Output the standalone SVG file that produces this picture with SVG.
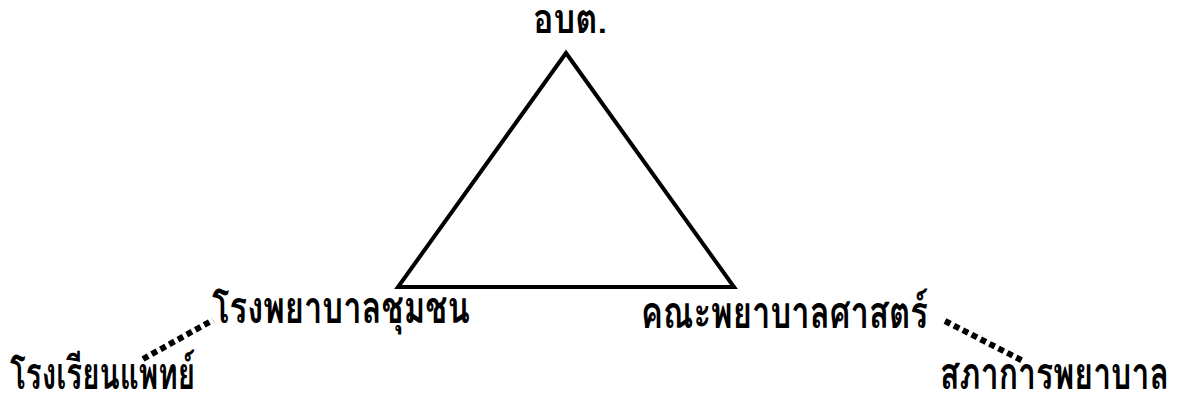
<svg xmlns="http://www.w3.org/2000/svg" width="1179" height="394" viewBox="0 0 1179 394">
<style>
.lbl{font-family:"Tahoma","Garuda","Loma","Noto Sans Thai Looped","Noto Sans Thai","DejaVu Sans",sans-serif;font-weight:bold;fill:#000;font-size:45px}
.dot{stroke:#000;stroke-width:6;stroke-dasharray:6 4;fill:none}
</style>
<rect width="1179" height="394" fill="#fff"/>
<g id="triangle">
<polygon points="566,53 398,287 734,287" fill="none" stroke="#000" stroke-width="4" stroke-linejoin="miter"/>
</g>
<g id="obt"><text class="lbl" x="533" y="33" style="font-size:40px" textLength="74" lengthAdjust="spacingAndGlyphs">อบต.</text></g>
<g id="community-hospital"><text class="lbl" x="212" y="323" textLength="258" lengthAdjust="spacingAndGlyphs">โรงพยาบาลชุมชน</text></g>
<g id="nursing-faculty"><text class="lbl" x="641" y="328" textLength="287" lengthAdjust="spacingAndGlyphs">คณะพยาบาลศาสตร์</text></g>
<g id="medical-school"><text class="lbl" x="10" y="389" textLength="185" lengthAdjust="spacingAndGlyphs">โรงเรียนแพทย์</text></g>
<g id="nursing-council"><text class="lbl" x="940" y="389" textLength="229" lengthAdjust="spacingAndGlyphs">สภาการพยาบาล</text></g>
<g id="connectors">
<line class="dot" x1="143" y1="359" x2="213" y2="320"/>
<line class="dot" x1="945" y1="321" x2="1025" y2="362"/>
</g>
</svg>
